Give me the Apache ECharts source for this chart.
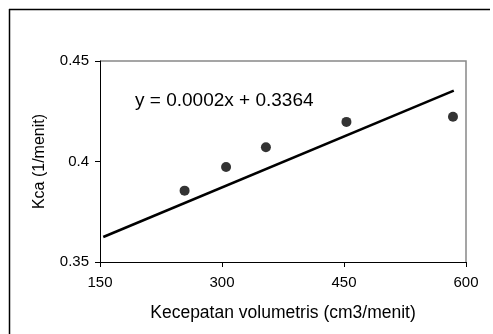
<!DOCTYPE html>
<html>
<head>
<meta charset="utf-8">
<script src="https://cdn.jsdelivr.net/npm/echarts@6/dist/echarts.min.js"></script>
<style>
html,body{margin:0;padding:0;background:#fff;overflow:hidden;}
#chart{width:493px;height:334px;position:relative;}
</style>
</head>
<body>
<div id="chart"></div>
<script>
// Data
var flowRates = [254, 305, 354, 453, 584];          // Kecepatan volumetris (cm3/menit)
var kcaValues = [0.3855, 0.3973, 0.4071, 0.4197, 0.4223]; // Kca (1/menit)
var trendSlope = 0.000169;
var trendIntercept = 0.3364;
var trendRange = [154, 585];
var xTicks = [150, 300, 450, 600];
var yTicks = [0.35, 0.4, 0.45];
var equationText = 'y = 0.0002x + 0.3364';
var xTitle = 'Kecepatan volumetris (cm3/menit)';
var yTitle = 'Kca (1/menit)';

var points = flowRates.map(function (x, i) { return [x, kcaValues[i]]; });
var trendLine = trendRange.map(function (x) { return [x, trendIntercept + trendSlope * x]; });

var chart = echarts.init(document.getElementById('chart'));
var font = 'Liberation Sans, Arial, sans-serif';
chart.setOption({
  animation: false,
  backgroundColor: '#fff',
  graphic: [{
    type: 'line',
    shape: { x1: 9.5, y1: 9, x2: 9.5, y2: 334 },
    style: { stroke: '#000', lineWidth: 1.5 },
    silent: true
  }, {
    type: 'line',
    shape: { x1: 9, y1: 9.5, x2: 490, y2: 9.5 },
    style: { stroke: '#000', lineWidth: 1.5 },
    silent: true
  }, {
    type: 'polyline',
    shape: { points: [[100, 61], [466, 61], [466, 262]] },
    style: { fill: null, stroke: '#888', lineWidth: 1.5 },
    silent: true
  }],
  title: {
    text: equationText,
    left: 135, top: 91, padding: 0,
    textStyle: { fontFamily: font, fontSize: 19, fontWeight: 'normal', color: '#000' }
  },
  grid: { left: 100, right: 27, top: 61, bottom: 72 },
  xAxis: {
    type: 'value', min: 150, max: 600, interval: 150,
    name: xTitle, nameLocation: 'middle', nameGap: 42,
    nameTextStyle: { fontFamily: font, fontSize: 17.5, color: '#000' },
    axisLine: { onZero: false, lineStyle: { color: '#000', width: 1 } },
    axisTick: { show: true, length: 5, lineStyle: { color: '#000' } },
    axisLabel: { fontFamily: font, fontSize: 15, color: '#000', margin: 13,
      formatter: function (v) { return xTicks.indexOf(v) >= 0 ? String(v) : ''; } },
    splitLine: { show: false }
  },
  yAxis: {
    type: 'value', min: 0.35, max: 0.45, interval: 0.05,
    name: yTitle, nameLocation: 'middle', nameGap: 52,
    nameTextStyle: { fontFamily: font, fontSize: 16, color: '#000' },
    axisLine: { show: true, lineStyle: { color: '#000', width: 1 } },
    axisTick: { show: true, length: 5, lineStyle: { color: '#000' } },
    axisLabel: { fontFamily: font, fontSize: 15, color: '#000', margin: 11,
      formatter: function (v) {
        for (var i = 0; i < yTicks.length; i++) { if (Math.abs(yTicks[i] - v) < 1e-9) return String(yTicks[i]); }
        return '';
      } },
    splitLine: { show: false }
  },
  series: [{
    type: 'line',
    data: trendLine,
    showSymbol: false,
    lineStyle: { color: '#000', width: 2.5 },
    z: 2
  }, {
    type: 'scatter',
    data: points,
    symbol: 'circle',
    symbolSize: 10,
    itemStyle: { color: '#000' },
    z: 3
  }]
});
</script>
</body>
</html>
